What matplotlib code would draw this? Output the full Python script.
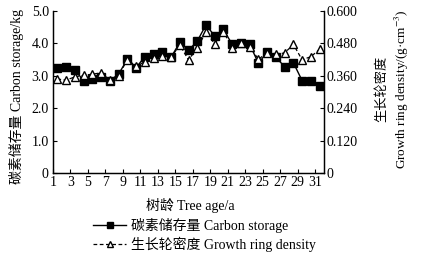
import matplotlib
matplotlib.use("Agg")
import matplotlib.pyplot as plt
import numpy as np

plt.rcParams['font.family'] = ['Liberation Serif', 'Noto Sans CJK SC', 'DejaVu Sans']
plt.rcParams['mathtext.fontset'] = 'stix'

ages = list(range(1, 32))
carbon = [3.23, 3.26, 3.18, 2.85, 2.89, 2.97, 2.85, 3.05, 3.51, 3.25,
          3.59, 3.66, 3.72, 3.57, 4.03, 3.79, 4.07, 4.57, 4.23, 4.43,
          3.97, 4.02, 3.98, 3.38, 3.74, 3.57, 3.28, 3.40, 2.85, 2.85, 2.68]
density = [0.348, 0.344, 0.356, 0.362, 0.366, 0.371, 0.344, 0.360, 0.420, 0.396,
           0.412, 0.425, 0.433, 0.428, 0.474, 0.419, 0.462, 0.523, 0.478, 0.523,
           0.464, 0.480, 0.468, 0.421, 0.446, 0.439, 0.445, 0.476, 0.419, 0.431, 0.458]
xticks = list(range(1, 32, 2))
left_ticks = [0, 1.0, 2.0, 3.0, 4.0, 5.0]
left_labels = ['0', '1.0', '2.0', '3.0', '4.0', '5.0']
right_ticks = [0, 0.120, 0.240, 0.360, 0.480, 0.600]
right_labels = ['0', '0.120', '0.240', '0.360', '0.480', '0.600']

fig = plt.figure(figsize=(4.3, 2.59), dpi=100)
W, H = 430, 259
ax = fig.add_axes([53 / W, 1 - 173 / H, (324 - 53) / W, (173 - 11) / H])
ax2 = ax.twinx()

xpos = np.array(ages) + 0.5
l1, = ax.plot(xpos, carbon, '-', color='black', lw=1.0, marker='s', ms=5.5,
              mfc='black', mec='black', label='碳素储存量 Carbon storage', zorder=3)
l2, = ax2.plot(xpos, density, '--', color='black', lw=0.9, marker='^', ms=6,
               mfc='white', mec='black', mew=1.0, dashes=(3, 2),
               label='生长轮密度 Growth ring density', zorder=2)

ax.set_xlim(1, 32)
ax.set_ylim(0, 5.0)
ax2.set_ylim(0, 0.6)
ax.set_xticks(xticks)
ax.set_xticklabels([str(a) for a in xticks])
ax.set_yticks(left_ticks)
ax.set_yticklabels(left_labels)
ax2.set_yticks(right_ticks)
ax2.set_yticklabels(right_labels)

for a in (ax, ax2):
    a.spines['top'].set_visible(False)
    for s in a.spines.values():
        s.set_linewidth(0.9)
ax.tick_params(axis='both', direction='in', length=3, width=0.8, labelsize=10, pad=2)
ax2.tick_params(axis='y', direction='in', length=3, width=0.8, labelsize=10, pad=2)
ax.tick_params(axis='y', pad=3)

ax.set_ylabel('碳素储存量 Carbon storage/kg', fontsize=10)
ax.yaxis.set_label_coords(-0.108, 0.47)
ax2.set_ylabel('生长轮密度\nGrowth ring density/(g·cm$^{-3}$)', fontsize=9.5,
               rotation=90, linespacing=1.4)
ax2.yaxis.set_label_coords(1.19, 0.52)

fig.text(190 / W, 1 - 205 / H, '树龄 Tree age/a', ha='center', va='center', fontsize=10)

leg = fig.legend(handles=[l1, l2], loc='upper left', bbox_to_anchor=(93 / W, 1 - 218 / H),
                 frameon=False, fontsize=10, handlelength=2.4, handletextpad=0.35,
                 labelspacing=0.25, borderpad=0, borderaxespad=0, markerscale=0.8)

fig.savefig('out.png', dpi=100)
